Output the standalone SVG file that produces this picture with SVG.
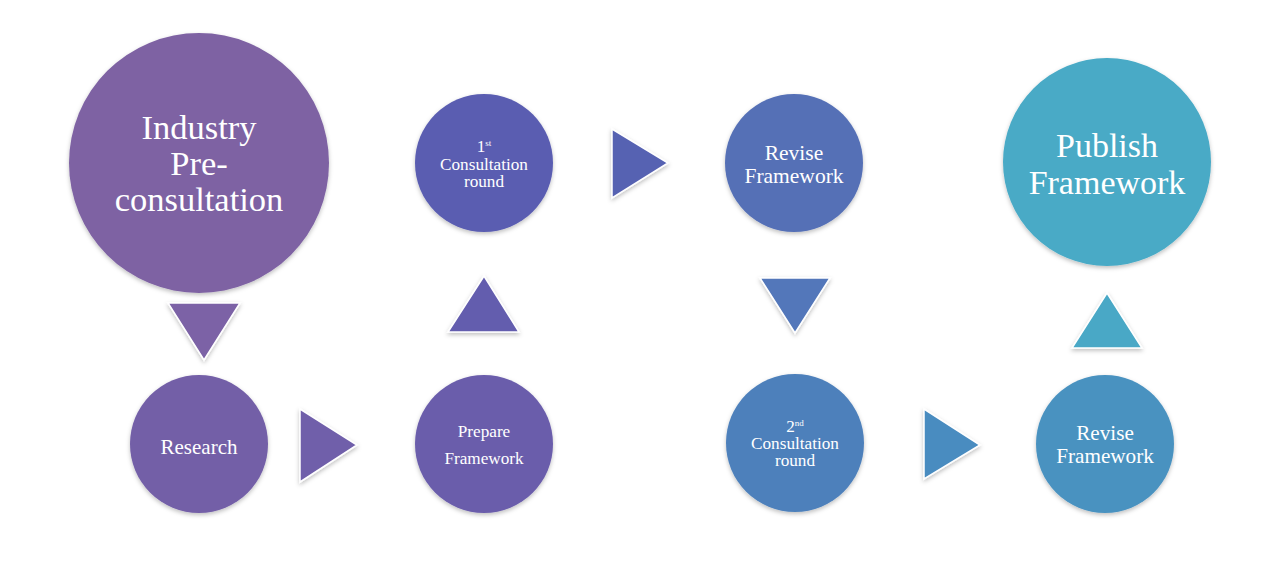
<svg xmlns="http://www.w3.org/2000/svg" width="1280" height="567" viewBox="0 0 1280 567">
<defs>
<filter id="sh" x="-20%" y="-20%" width="140%" height="140%">
<feDropShadow dx="0" dy="2" stdDeviation="2" flood-color="#000" flood-opacity="0.25"/>
</filter>
<style>
.node{filter:url(#sh);}
.arr{stroke:#ffffff;stroke-width:1.5;stroke-linejoin:miter;filter:url(#sh);}
text{font-family:"Liberation Serif","Times New Roman",serif;fill:#ffffff;text-anchor:middle;}
</style>
</defs>
<rect width="1280" height="567" fill="#ffffff"/>
<g id="connectors">
<polygon class="arr" points="168,303 240,303 204,360" fill="#7B62A6"/>
<polygon class="arr" points="300,409 357,445 300,482" fill="#705FAA"/>
<polygon class="arr" points="448,332 519,332 484,276" fill="#635DAE"/>
<polygon class="arr" points="612,129 668,163 612,198" fill="#5762B2"/>
<polygon class="arr" points="760,278 830,278 795,333" fill="#5277BA"/>
<polygon class="arr" points="924,409 980,445 924,479" fill="#4A8CC0"/>
<polygon class="arr" points="1072,348 1142,348 1107,293" fill="#48A8C6"/>
</g>
<g id="n-industry">
<circle class="node" cx="199" cy="163" r="130" fill="#7E62A3"/>
<text font-size="34.5"><tspan x="199" y="139">Industry</tspan><tspan x="199" y="175">Pre-</tspan><tspan x="199" y="211">consultation</tspan></text>
</g>
<g id="n-research">
<circle class="node" cx="199" cy="444" r="69" fill="#735FA7"/>
<text font-size="21" x="199" y="454">Research</text>
</g>
<g id="n-prepare">
<circle class="node" cx="484" cy="444" r="69" fill="#6A5DAB"/>
<text font-size="17.2"><tspan x="484" y="437">Prepare</tspan><tspan x="484" y="464">Framework</tspan></text>
</g>
<g id="n-first">
<circle class="node" cx="484" cy="163" r="69" fill="#5A5DB1"/>
<text font-size="17.2"><tspan x="484" y="152">1<tspan font-size="9" dy="-6">st</tspan></tspan><tspan x="484" y="170">Consultation</tspan><tspan x="484" y="187">round</tspan></text>
</g>
<g id="n-revise1">
<circle class="node" cx="794" cy="163" r="69" fill="#5570B6"/>
<text font-size="21.5"><tspan x="794" y="160">Revise</tspan><tspan x="794" y="183">Framework</tspan></text>
</g>
<g id="n-second">
<circle class="node" cx="795" cy="443" r="69" fill="#4E80BB"/>
<text font-size="17.2"><tspan x="795" y="432">2<tspan font-size="9" dy="-6">nd</tspan></tspan><tspan x="795" y="449">Consultation</tspan><tspan x="795" y="466">round</tspan></text>
</g>
<g id="n-revise2">
<circle class="node" cx="1105" cy="444" r="69" fill="#4A92C0"/>
<text font-size="21.2"><tspan x="1105" y="440">Revise</tspan><tspan x="1105" y="463">Framework</tspan></text>
</g>
<g id="n-publish">
<circle class="node" cx="1107" cy="162" r="104" fill="#48AAC6"/>
<text font-size="34"><tspan x="1107" y="157">Publish</tspan><tspan x="1107" y="194">Framework</tspan></text>
</g>
</svg>
